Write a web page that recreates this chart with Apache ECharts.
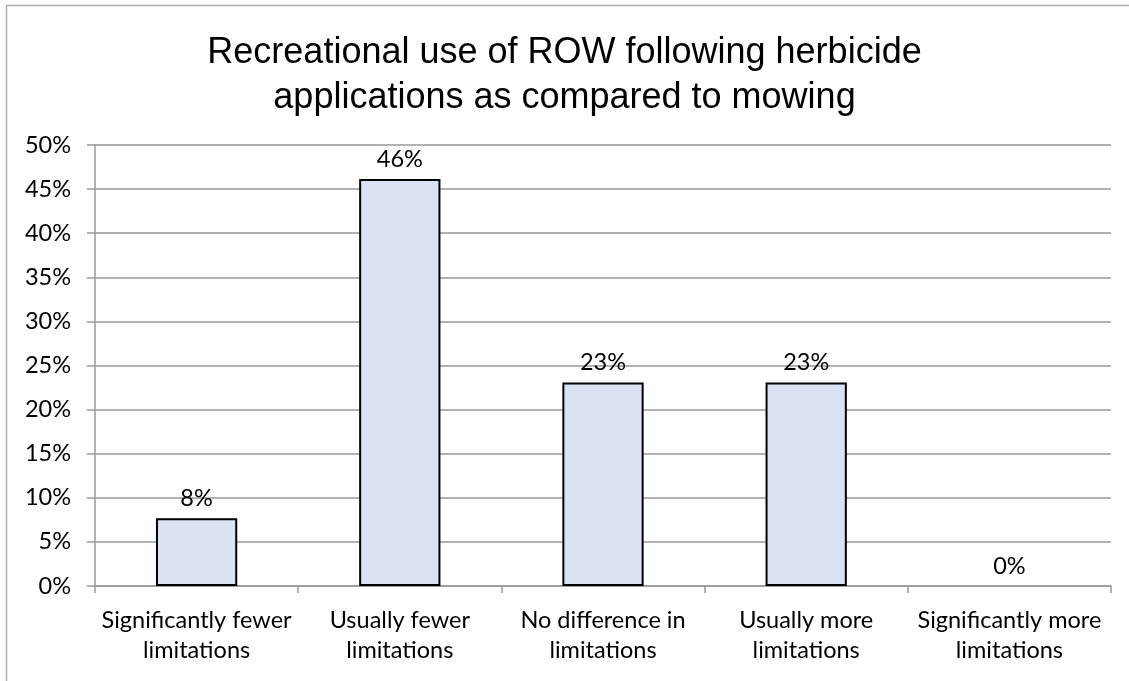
<!DOCTYPE html>
<html><head><meta charset="utf-8">
<script src="https://cdn.jsdelivr.net/npm/echarts@6/dist/echarts.min.js"></script>
<style>html,body{margin:0;padding:0;background:#fff}#c{width:1129px;height:681px}</style>
</head><body><div id="c"></div>
<script>
const categories = ["Significantly fewer\nlimitations", "Usually fewer\nlimitations", "No difference in\nlimitations", "Usually more\nlimitations", "Significantly more\nlimitations"];
const values = [7.69, 46.15, 23.08, 23.08, 0];
const titleText = "Recreational use of ROW following herbicide\napplications as compared to mowing";
const yMax = 50, yStep = 5;

const chart = echarts.init(document.getElementById('c'), null, {renderer: 'canvas'});
const labelFont = "Lato, 'Open Sans', sans-serif";
chart.setOption({
  animation: false,
  graphic: [{type: 'rect', shape: {x: 6.5, y: 5.5, width: 1140, height: 700}, style: {fill: 'none', stroke: '#B0B0B0', lineWidth: 1.5}, z: -1}],
  title: {
    text: titleText, left: 'center', top: 26,
    textStyle: {fontFamily: "'Liberation Sans', Arial, sans-serif", fontSize: 36, fontWeight: 'normal', color: '#000', lineHeight: 45}
  },
  grid: {left: 95, right: 18, top: 145, bottom: 95, containLabel: false},
  xAxis: {
    type: 'category', data: categories,
    axisLine: {lineStyle: {color: '#999', width: 1.5}},
    axisTick: {show: true, length: 7, lineStyle: {color: '#999', width: 1.5}},
    axisLabel: {fontFamily: labelFont, fontSize: 23.5, color: '#000', lineHeight: 30, margin: 19, interval: 0}
  },
  yAxis: {
    type: 'value', min: 0, max: yMax, interval: yStep,
    axisLine: {show: true, lineStyle: {color: '#999', width: 1.5}},
    axisTick: {show: true, length: 8, lineStyle: {color: '#999', width: 1.5}},
    splitLine: {lineStyle: {color: '#999', width: 1.5}},
    axisLabel: {fontFamily: labelFont, fontSize: 23.5, color: '#000', margin: 24, formatter: v => v + '%'}
  },
  series: [{
    type: 'bar', barWidth: '40%',
    data: values.map(v => v === 0 ? {value: v, itemStyle: {borderWidth: 0}} : v),
    itemStyle: {color: '#DAE3F3', borderColor: '#000', borderWidth: 2},
    label: {show: true, position: 'top', distance: 8, fontFamily: labelFont, fontSize: 23.5, color: '#000', formatter: p => Math.round(p.value) + '%'}
  }]
});
</script></body></html>
